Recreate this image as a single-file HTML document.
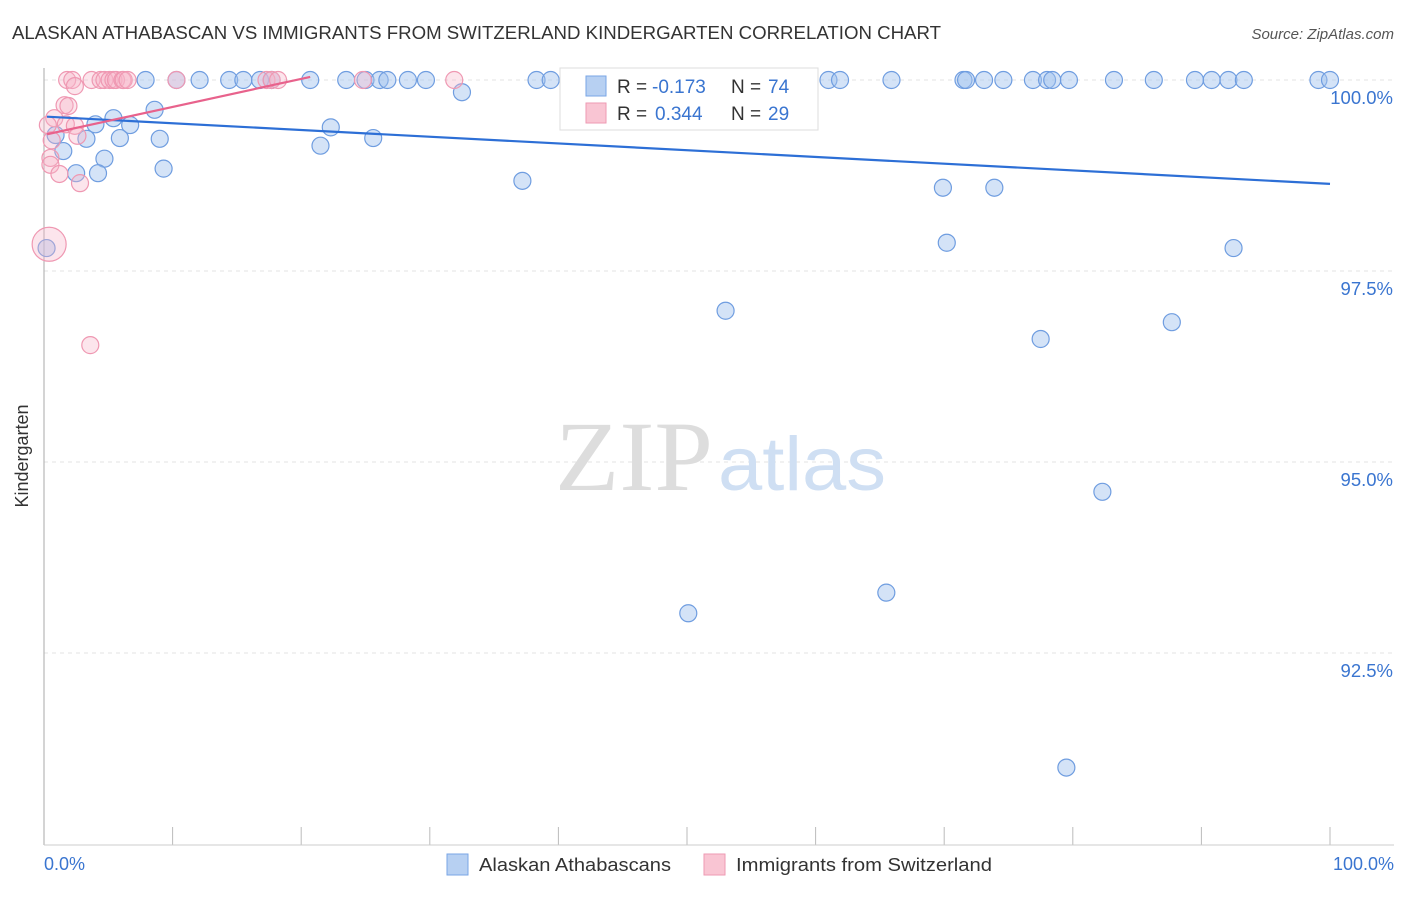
<!DOCTYPE html>
<html><head><meta charset="utf-8"><style>
body{margin:0;background:#fff;font-family:"Liberation Sans",sans-serif;}
</style></head><body>
<svg width="1406" height="892" xmlns="http://www.w3.org/2000/svg">
<text x="12" y="39" font-size="18" fill="#333" textLength="929" lengthAdjust="spacingAndGlyphs">ALASKAN ATHABASCAN VS IMMIGRANTS FROM SWITZERLAND KINDERGARTEN CORRELATION CHART</text>
<text x="1394" y="39" font-size="15" fill="#555" font-style="italic" text-anchor="end">Source: ZipAtlas.com</text>
<g id="grid"></g>
<line x1="44" y1="68" x2="44" y2="845" stroke="#aaa"/>
<line x1="44" y1="845" x2="1394" y2="845" stroke="#ccc"/>
<text x="555" y="490" font-size="100" fill="#ddd" font-family="Liberation Serif" textLength="158" lengthAdjust="spacingAndGlyphs">ZIP</text>
<text x="718" y="490" font-size="76" fill="#cfdff3" textLength="168" lengthAdjust="spacingAndGlyphs">atlas</text>
<text x="28" y="456" font-size="18" fill="#333" text-anchor="middle" transform="rotate(-90 28 456)">Kindergarten</text>
<text x="44" y="870" font-size="18" fill="#3a75d0">0.0%</text>
<text x="1394" y="870" font-size="18" fill="#3a75d0" text-anchor="end">100.0%</text>
<g id="pts"></g>
<g id="lines"></g>
<g>
<rect x="560" y="68" width="258" height="62" fill="#fff" stroke="#ddd"/>
<rect x="586" y="76" width="20" height="20" fill="#b7d0f2" stroke="#7aa6e6"/>
<rect x="586" y="103" width="20" height="20" fill="#f9c5d3" stroke="#ee9ab3"/>
<text x="617" y="93" font-size="19" fill="#333">R = <tspan x="652" fill="#3a75d0">-0.173</tspan><tspan x="731">N = </tspan><tspan x="768" fill="#3a75d0">74</tspan></text>
<text x="617" y="120" font-size="19" fill="#333">R = <tspan x="655" fill="#3a75d0">0.344</tspan><tspan x="731">N = </tspan><tspan x="768" fill="#3a75d0">29</tspan></text>
</g>
<rect x="447" y="854" width="21" height="21" fill="#b7d0f2" stroke="#7aa6e6"/>
<text x="479" y="871" font-size="18" fill="#333" textLength="192" lengthAdjust="spacingAndGlyphs">Alaskan Athabascans</text>
<rect x="704" y="854" width="21" height="21" fill="#f9c5d3" stroke="#ee9ab3"/>
<text x="736" y="871" font-size="18" fill="#333" textLength="256" lengthAdjust="spacingAndGlyphs">Immigrants from Switzerland</text>
</svg>
<script>
const yTicks=[100,97.5,95,92.5];
const yTickLabels=["100.0%","97.5%","95.0%","92.5%"];
const xTicks=[0,10,20,30,40,50,60,70,80,90,100];
const blueX=[7.9,10.3,12.1,14.4,15.5,16.8,17.7,20.7,23.5,25.0,26.1,26.7,28.3,29.7,38.3,39.4,41.3,57.9,61.0,61.9,65.9,71.5,71.7,73.1,74.6,76.9,78.0,78.4,79.7,83.2,86.3,89.5,90.8,92.1,93.3,99.1,100,
32.5,8.6,5.4,6.7,4.0,22.3,0.9,3.3,5.9,9.0,25.6,21.5,1.5,4.7,9.3,2.5,4.2,37.2,69.9,73.9,70.2,92.5,0.2,53.0,87.7,77.5,82.3,65.5,50.1,79.5];
const blueY=[100,100,100,100,100,100,100,100,100,100,100,100,100,100,100,100,100,100,100,100,100,100,100,100,100,100,100,100,100,100,100,100,100,100,100,100,100,
99.84,99.61,99.50,99.41,99.42,99.38,99.28,99.23,99.24,99.23,99.24,99.14,99.07,98.97,98.84,98.78,98.78,98.68,98.59,98.59,97.87,97.80,97.80,96.98,96.83,96.61,94.61,93.29,93.02,91.0];
const pinkX=[1.8,2.2,3.7,4.4,4.7,5.1,5.4,5.6,6.1,6.2,6.5,10.3,17.3,17.7,18.2,24.8,31.9,2.4,1.6,1.9,0.8,1.7,2.4,0.3,2.6,0.6,0.5,0.5,1.2,2.8,0.4,3.6];
const pinkY=[100,100,100,100,100,100,100,100,100,100,100,100,100,100,100,100,100,99.92,99.67,99.66,99.50,99.42,99.40,99.41,99.27,99.21,98.98,98.89,98.77,98.65,97.85,96.53];
const blueTrend=[[0,99.52],[100,98.64]];
const pinkTrend=[[0,99.29],[20.7,100.04]];
const X=v=>44+v*12.86, Y=v=>80+(100-v)*76.4;
const NS="http://www.w3.org/2000/svg";
function mk(t,a,p){const e=document.createElementNS(NS,t);for(const k in a)e.setAttribute(k,a[k]);p.appendChild(e);return e;}
const g=document.getElementById('grid');
yTicks.forEach((v,i)=>{
 const l=mk('line',{x1:44,x2:1394,y1:Y(v),y2:Y(v),stroke:'#e3e3e3','stroke-dasharray':'4,4'},g);
 
 
 const t=mk('text',{x:1393,y:Y(v)+24,'font-size':18.5,fill:'#3a75d0','text-anchor':'end'},g);t.textContent=yTickLabels[i];
 
 
});
xTicks.forEach(v=>{
 const l=mk('line',{x1:X(v),x2:X(v),y1:827,y2:845,stroke:'#bbb'},g);
 
 
});
const p=document.getElementById('pts');
blueX.forEach((x,i)=>{
 const c=mk('circle',{cx:X(x),cy:Y(blueY[i]),r:8.5,fill:'rgba(160,192,238,0.45)',stroke:'#6f9de0','stroke-width':1.2},p);
 
 
});
pinkX.forEach((x,i)=>{
 const c=mk('circle',{cx:X(x),cy:Y(pinkY[i]),r:i==30?17:8.5,fill:'rgba(246,180,200,0.35)',stroke:'#ef98b2','stroke-width':1.2},p);
 
 
});
const L=document.getElementById('lines');
const b=mk('line',{x1:X(blueTrend[0][0])+3,y1:Y(blueTrend[0][1]),x2:X(blueTrend[1][0]),y2:Y(blueTrend[1][1]),stroke:'#2d6fd6','stroke-width':2.2},L);


const pk=mk('line',{x1:X(pinkTrend[0][0])+3,y1:Y(pinkTrend[0][1]),x2:X(pinkTrend[1][0]),y2:Y(pinkTrend[1][1]),stroke:'#e8628c','stroke-width':2.2},L);


</script>
</body></html>
